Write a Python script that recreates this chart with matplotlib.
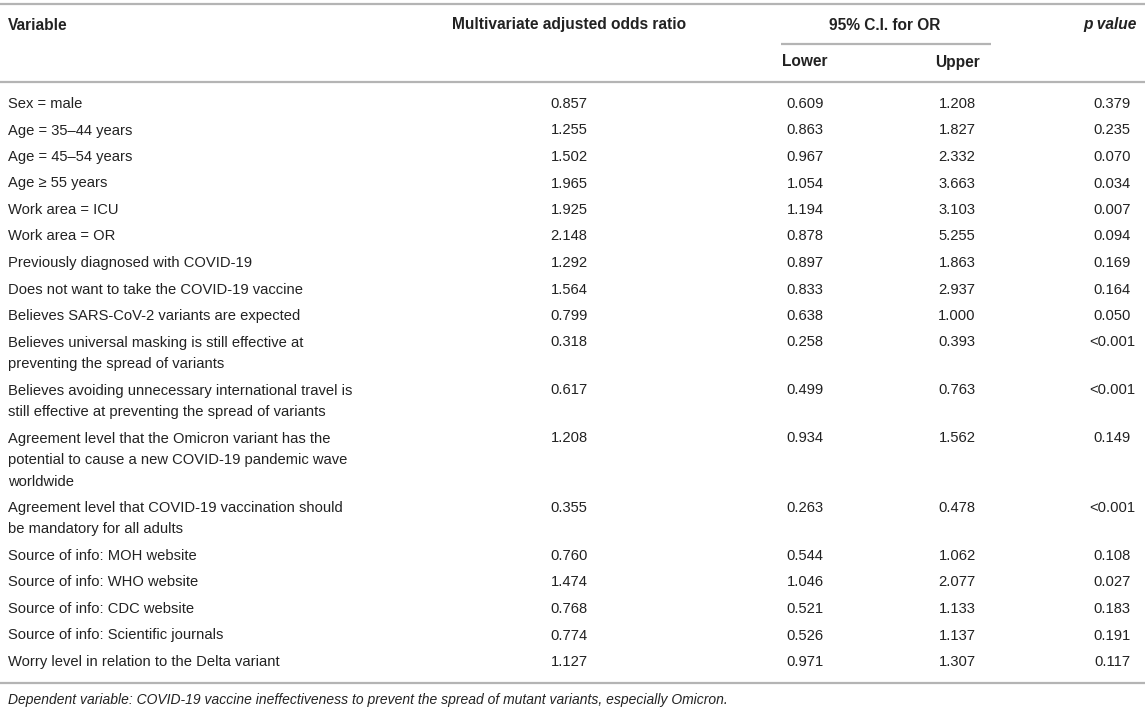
import matplotlib.pyplot as plt

plt.rcParams['font.family'] = ['Liberation Sans', 'DejaVu Sans']

# table data
variables = [
    "Sex = male",
    "Age = 35\u201344 years",
    "Age = 45\u201354 years",
    "Age \u2265 55 years",
    "Work area = ICU",
    "Work area = OR",
    "Previously diagnosed with COVID-19",
    "Does not want to take the COVID-19 vaccine",
    "Believes SARS-CoV-2 variants are expected",
    "Believes universal masking is still effective at\npreventing the spread of variants",
    "Believes avoiding unnecessary international travel is\nstill effective at preventing the spread of variants",
    "Agreement level that the Omicron variant has the\npotential to cause a new COVID-19 pandemic wave\nworldwide",
    "Agreement level that COVID-19 vaccination should\nbe mandatory for all adults",
    "Source of info: MOH website",
    "Source of info: WHO website",
    "Source of info: CDC website",
    "Source of info: Scientific journals",
    "Worry level in relation to the Delta variant",
]
odds_ratio = ["0.857", "1.255", "1.502", "1.965", "1.925", "2.148", "1.292", "1.564", "0.799",
              "0.318", "0.617", "1.208", "0.355", "0.760", "1.474", "0.768", "0.774", "1.127"]
ci_lower = ["0.609", "0.863", "0.967", "1.054", "1.194", "0.878", "0.897", "0.833", "0.638",
            "0.258", "0.499", "0.934", "0.263", "0.544", "1.046", "0.521", "0.526", "0.971"]
ci_upper = ["1.208", "1.827", "2.332", "3.663", "3.103", "5.255", "1.863", "2.937", "1.000",
            "0.393", "0.763", "1.562", "0.478", "1.062", "2.077", "1.133", "1.137", "1.307"]
p_values = ["0.379", "0.235", "0.070", "0.034", "0.007", "0.094", "0.169", "0.164", "0.050",
            "<0.001", "<0.001", "0.149", "<0.001", "0.108", "0.027", "0.183", "0.191", "0.117"]
footnote = ("Dependent variable: COVID-19 vaccine ineffectiveness to prevent the spread of "
            "mutant variants, especially Omicron.")

W, H = 1145, 710
fig = plt.figure(figsize=(W / 100, H / 100), dpi=100)
ax = fig.add_axes([0, 0, 1, 1])
ax.set_xlim(0, W)
ax.set_ylim(H, 0)
ax.axis('off')

txt = '#222222'
rule = '#b4b4b4'
fs = 10.6      # body
fs_hd = 11.2   # header (bold)

# column centres (pixels)
x_var, x_or, x_lo, x_up, x_p = 8, 569, 805, 957, 1112

# rules
for y in (4, 82):
    ax.plot([0, W], [y, y], color=rule, lw=1.6, solid_capstyle='butt')
ax.plot([781, 991], [44, 44], color=rule, lw=1.6, solid_capstyle='butt')

# header
hd = dict(fontsize=fs_hd, fontweight='bold', color=txt, va='center')
ax.text(x_var, 25, "Variable", ha='left', **hd)
ax.text(x_or, 25, "Multivariate adjusted odds ratio", ha='center', **hd)
ax.text(885, 25, "95% C.I. for OR", ha='center', **hd)
ax.text(1137, 25, "p value", ha='right', fontstyle='italic', **hd)
ax.text(x_lo, 62, "Lower", ha='center', **hd)
ax.text(x_up, 62, "Upper", ha='center', **hd)

# body rows
row_gap, line_gap = 26.5, 21.5
y = 104
bd = dict(fontsize=fs, color=txt, va='center')
for var, o, lo, up, p in zip(variables, odds_ratio, ci_lower, ci_upper, p_values):
    lines = var.split("\n")
    for k, ln in enumerate(lines):
        ax.text(x_var, y + k * line_gap, ln, ha='left', **bd)
    ax.text(x_or, y, o, ha='center', **bd)
    ax.text(x_lo, y, lo, ha='center', **bd)
    ax.text(x_up, y, up, ha='center', **bd)
    ax.text(x_p, y, p, ha='center', **bd)
    y += row_gap + (len(lines) - 1) * line_gap

y_bottom = y - row_gap + 21
ax.plot([0, W], [y_bottom, y_bottom], color=rule, lw=1.6, solid_capstyle='butt')
ax.text(x_var, y_bottom + 17, footnote, ha='left', va='center', fontsize=10.0,
        fontstyle='italic', color=txt)

fig.savefig("out.png", dpi=100)
